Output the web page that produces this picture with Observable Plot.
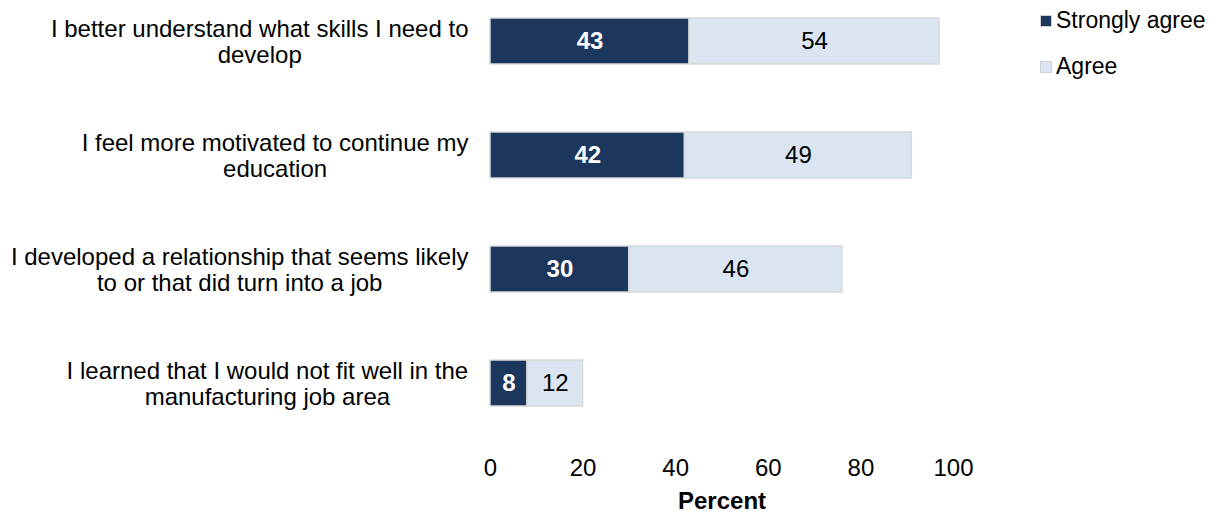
<!DOCTYPE html>
<html><head><meta charset="utf-8">
<script src="https://cdn.jsdelivr.net/npm/d3@7"></script>
<script src="https://cdn.jsdelivr.net/npm/@observablehq/plot@0.6"></script>
<style>
html,body{margin:0;padding:0;background:#fff;}
body{font-family:"Liberation Sans",Arial,sans-serif;}
#wrap{position:relative;width:1218px;height:514px;overflow:hidden;}
#legend{position:absolute;left:1040px;top:0;font-size:23px;color:#000;}
.item{position:absolute;left:0;white-space:nowrap;height:27px;line-height:27px;}
.sw{position:absolute;left:0;top:8px;width:10px;height:10px;border:0.5px solid #d0d0d0;}
.lb{position:absolute;left:16px;top:0;}
</style>
</head><body>
<div id="wrap"><div id="legend"></div></div>
<script>
const categories = [
  "I better understand what skills I need to\ndevelop",
  "I feel more motivated to continue my\neducation",
  "I developed a relationship that seems likely\nto or that did turn into a job",
  "I learned that I would not fit well in the\nmanufacturing job area"
];
const series = ["Strongly agree", "Agree"];
const stronglyAgree = [43, 42, 30, 8];
const agree = [54, 49, 46, 12];
const xTicks = [0, 20, 40, 60, 80, 100];
const colors = ["#1b375e", "#dbe5f1"];

// build stacked rows from the arrays
const rows = [];
categories.forEach((c, i) => {
  const vals = [stronglyAgree[i], agree[i]];
  let acc = 0;
  vals.forEach((v, j) => {
    rows.push({category: c, series: series[j], value: v, x1: acc, x2: acc + v});
    acc += v;
  });
});

const FS = 24;
const chart = Plot.plot({
  width: 1218,
  height: 514,
  marginLeft: 490,
  marginRight: 265,
  marginTop: 6,
  marginBottom: 96,
  style: {fontFamily: '"Liberation Sans", Arial, sans-serif', fontSize: FS + "px", color: "#000", background: "transparent"},
  x: {domain: [0, 100], label: null},
  y: {domain: categories, paddingInner: 0.6, paddingOuter: 0.1, label: null},
  color: {domain: series, range: colors},
  marks: [
    Plot.barX(rows, {y: "category", x1: "x1", x2: "x2", fill: "series", stroke: "#d9d9d9", strokeWidth: 1.5}),
    Plot.text(rows.filter(d => d.series === series[0]), {y: "category", x: d => (d.x1 + d.x2) / 2, text: d => String(d.value), fill: "white", fontWeight: "bold", fontSize: FS}),
    Plot.text(rows.filter(d => d.series === series[1]), {y: "category", x: d => (d.x1 + d.x2) / 2, text: d => String(d.value), fill: "black", fontSize: FS}),
    Plot.axisX({ticks: xTicks, tickSize: 0, tickPadding: 40, fontSize: FS, label: null}),
    Plot.axisY({tickSize: 0, tickPadding: 22, fontSize: FS, lineHeight: 1.1, label: null}),
    Plot.text(["Percent"], {text: d => d, frameAnchor: "bottom", dy: 83, fontWeight: "bold", fontSize: FS, lineAnchor: "middle"})
  ]
});
document.getElementById("wrap").append(chart);

// center each multi-line category label within its block (block stays right-aligned)
chart.querySelectorAll('g[aria-label="y-axis tick label"] text').forEach(t => {
  const w = t.getBBox().width;
  t.setAttribute("text-anchor", "middle");
  const spans = t.querySelectorAll("tspan");
  if (spans.length) spans.forEach(s => s.setAttribute("x", -w / 2));
  else t.setAttribute("x", -w / 2);
});

// legend
const legend = document.getElementById("legend");
series.forEach((s, i) => {
  const item = document.createElement("div");
  item.className = "item";
  item.style.top = (7 + i * 46) + "px";
  const sw = document.createElement("div");
  sw.className = "sw";
  sw.style.background = colors[i];
  const lb = document.createElement("div");
  lb.className = "lb";
  lb.textContent = s;
  item.append(sw, lb);
  legend.append(item);
});
</script>
</body></html>
